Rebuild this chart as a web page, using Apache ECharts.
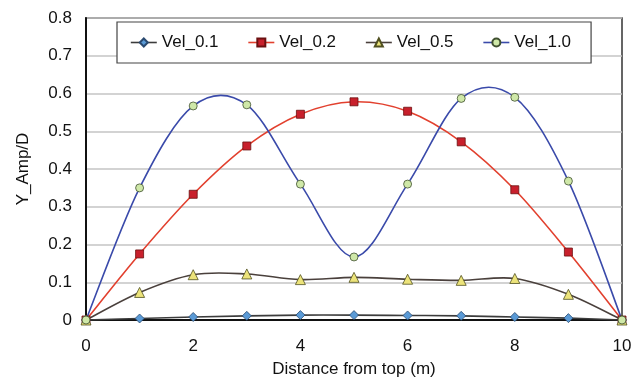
<!DOCTYPE html>
<html><head><meta charset="utf-8">
<script src="https://cdn.jsdelivr.net/npm/echarts@6/dist/echarts.min.js"></script>
<style>html,body{margin:0;padding:0;background:#fff}#c{width:644px;height:381px}</style>
</head><body><div id="c"></div>
<script>
const distances = [0,1,2,3,4,5,6,7,8,9,10];
const vel01 = [0,0.004,0.008,0.011,0.013,0.013,0.012,0.011,0.008,0.005,0];
const vel02 = [0,0.175,0.333,0.461,0.545,0.578,0.553,0.472,0.345,0.180,0];
const vel05 = [0,0.073,0.120,0.122,0.107,0.113,0.108,0.105,0.110,0.068,0];
const vel10 = [0,0.350,0.567,0.570,0.360,0.167,0.360,0.587,0.590,0.368,0];
const seriesNames = ['Vel_0.1','Vel_0.2','Vel_0.5','Vel_1.0'];
const xTicks = [0,2,4,6,8,10];
const yTicks = [0,0.1,0.2,0.3,0.4,0.5,0.6,0.7,0.8];

const font = 'Liberation Sans, Arial, sans-serif';
function pairs(arr){ return distances.map((d,i)=>[d,arr[i]]); }
const styles = [
  {line:'#3c3c3c', fill:'#5a9ad6', border:'#2a4a70', symbol:'diamond', size:9},
  {line:'#e2402e', fill:'#c8202c', border:'#6a1010', symbol:'rect', size:8},
  {line:'#4a403c', fill:'#ece37a', border:'#505020', symbol:'triangle', size:10},
  {line:'#3a4aaa', fill:'#cfe8a8', border:'#405030', symbol:'circle', size:8}
];
const datasets = [vel01, vel02, vel05, vel10];

// Smoothed (Excel-like Catmull-Rom) curve segments, positioned through the axes via api.coord
function makeCurveRenderer(arr, color){
  return function(params, api){
    const i = params.dataIndex;
    const n = distances.length;
    if (i >= n - 1) return null;
    const P = k => { k = Math.max(0, Math.min(n-1, k)); return api.coord([distances[k], arr[k]]); };
    const p0 = P(i-1), p1 = P(i), p2 = P(i+1), p3 = P(i+2);
    return {
      type:'bezierCurve',
      shape:{
        x1:p1[0], y1:p1[1], x2:p2[0], y2:p2[1],
        cpx1:p1[0] + (p2[0]-p0[0])/6, cpy1:p1[1] + (p2[1]-p0[1])/6,
        cpx2:p2[0] - (p3[0]-p1[0])/6, cpy2:p2[1] - (p3[1]-p1[1])/6
      },
      style:{stroke:color, lineWidth:1.6, fill:null}
    };
  };
}

const chart = echarts.init(document.getElementById('c'), null, {renderer:'canvas'});
const markerSeries = seriesNames.map((n,i)=>({
  name:n, type:'line', data:pairs(datasets[i]),
  symbol:styles[i].symbol, symbolSize:styles[i].size,
  lineStyle:{color:styles[i].line, width:1.6, opacity:0},
  itemStyle:{color:styles[i].fill, borderColor:styles[i].border, borderWidth:0.8},
  z: 10+i
}));
const curveSeries = seriesNames.map((n,i)=>({
  name:n, type:'custom', data:pairs(datasets[i]),
  encode:{x:0, y:1},
  renderItem: makeCurveRenderer(datasets[i], styles[i].line),
  z: 3+i, silent:true
}));
chart.setOption({
  animation:false,
  backgroundColor:'#fff',
  textStyle:{fontFamily:font},
  grid:{left:86, right:22, top:18, bottom:61, containLabel:false, outerBoundsMode:'none',
        show:true, borderColor:'#333', borderWidth:1.5},
  legend:{
    top:22, left:117, height:16,
    padding:[12,20,12,13],
    borderColor:'#444', borderWidth:1.2, backgroundColor:'#fff',
    itemWidth:26, itemHeight:10, itemGap:29,
    textStyle:{fontFamily:font, fontSize:17, color:'#111'},
    data: seriesNames.map((n,i)=>({name:n, lineStyle:{color:styles[i].line, width:1.6, opacity:1}}))
  },
  xAxis:{
    type:'value', min:0, max:10, interval:2,
    name:'Distance from top (m)', nameLocation:'middle', nameGap:41,
    nameTextStyle:{fontFamily:font, fontSize:17, color:'#111'},
    axisLine:{lineStyle:{color:'#111', width:2}},
    axisTick:{show:false},
    axisLabel:{fontFamily:font, fontSize:17, color:'#111', margin:18},
    splitLine:{show:false}
  },
  yAxis:{
    type:'value', min:0, max:0.8, interval:0.1,
    name:'Y_Amp/D', nameLocation:'middle', nameGap:54,
    nameTextStyle:{fontFamily:font, fontSize:17, color:'#111'},
    axisLine:{show:true, lineStyle:{color:'#111', width:2}},
    axisTick:{show:false},
    axisLabel:{fontFamily:font, fontSize:17, color:'#111', margin:14, formatter:v=>String(Math.round(v*10)/10)},
    splitLine:{lineStyle:{color:'#c4c4c4', width:1.5}}
  },
  series: markerSeries.concat(curveSeries)
});
</script></body></html>
